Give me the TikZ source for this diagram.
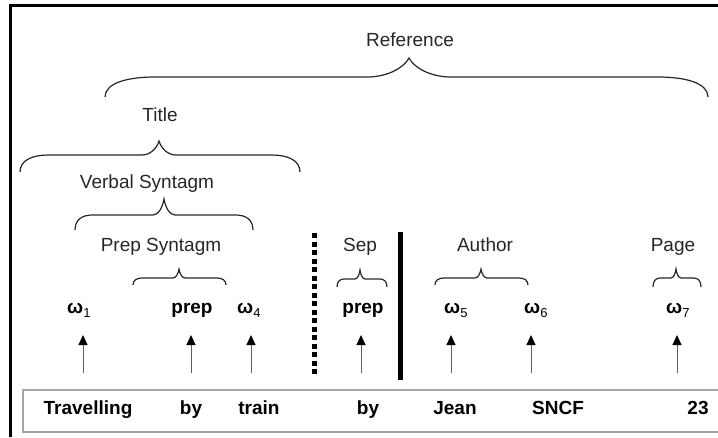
\documentclass[tikz,border=0pt]{standalone}
\usepackage{fontspec}
\setmainfont{Liberation Sans}
\usetikzlibrary{arrows.meta}
% #1 left x, #2 right x, #3 tip x, #4 line y, #5 end drop, #6 tip rise, #7 end width, #8 tip half-width
\newcommand{\wbrace}[8]{%
  \draw[brc] (#1,#4+#5) .. controls (#1,#4+0.3*#5) and (#1+0.45*#7,#4) .. (#1+#7,#4)
    -- (#3-#8,#4) .. controls (#3-0.5*#8,#4) and (#3-0.12*#8,#4-0.5*#6) .. (#3,#4-#6)
    .. controls (#3+0.12*#8,#4-0.5*#6) and (#3+0.5*#8,#4) .. (#3+#8,#4)
    -- (#2-#7,#4) .. controls (#2-0.45*#7,#4) and (#2,#4+0.3*#5) .. (#2,#4+#5);}
\newcommand{\omsub}[1]{\textbf{ω}\raisebox{-4.5pt}{\fontsize{13}{13}\selectfont #1}}
\begin{document}
\begin{tikzpicture}[x=1pt,y=-1pt,
  every node/.style={inner sep=0pt,font=\fontsize{19}{22}\selectfont,text=black!85},
  lbl/.style={anchor=base},
  wd/.style={anchor=base,font=\fontsize{19}{22}\selectfont\bfseries,text=black},
  om/.style={anchor=base west,font=\fontsize{19}{22}\selectfont,text=black},
  arr/.style={draw=gray!75!black,line width=1pt,-{Triangle[length=10pt,width=9pt,color=black]}},
  brc/.style={line width=1.2pt,draw=black!85},
  frame/.style={line width=3pt,draw=black},
  boxline/.style={line width=1.5pt,draw=gray!70}]
\useasboundingbox (0,0) rectangle (718,437);
% frame
\draw[frame] (10,437) -- (10,5) -- (718,5);
% bottom box
\draw[boxline] (718,390) -- (23,390) -- (23,432) -- (718,432);
% labels
\node[lbl] (ref) at (410,46) {Reference};
\node[lbl] (title) at (160,121) {Title};
\node[lbl] (verb) at (147,188) {Verbal Syntagm};
\node[lbl] (prepsyn) at (161,251) {Prep Syntagm};
\node[lbl] (sep) at (360,251) {Sep};
\node[lbl] (author) at (485,251) {Author};
\node[lbl] (page) at (673,251) {Page};
% braces
\wbrace{105}{708}{409}{77}{20}{19}{50}{42}
\wbrace{20}{300}{159}{155}{17}{14}{28}{17}
\wbrace{75}{253}{164}{215}{15}{16}{17}{11}
\wbrace{133}{226}{179}{278}{7}{9}{9}{6}
\wbrace{337}{387}{360}{279}{8}{9}{7}{5}
\wbrace{435}{528}{481}{278}{7}{9}{9}{6}
\wbrace{653}{701}{676}{278}{9}{9}{7}{5}
% middle row
\node[om] (w1) at (67,313) {\omsub{1}};
\node[wd] (p1) at (192,313) {prep};
\node[om] (w4) at (237,313) {\omsub{4}};
\node[wd] (p2) at (363,313) {prep};
\node[om] (w5) at (444,313) {\omsub{5}};
\node[om] (w6) at (524,313) {\omsub{6}};
\node[om] (w7) at (666,313) {\omsub{7}};
% separators
\draw[line width=5pt,dash pattern=on 5pt off 3.5pt] (314,233) -- (314,377);
\draw[line width=5pt] (400,232) -- (400,380);
% bottom words
\node[wd] (b1) at (88,414) {Travelling};
\node[wd] (b2) at (191,414) {by};
\node[wd] (b3) at (259,414) {train};
\node[wd] (b4) at (368,414) {by};
\node[wd] (b5) at (455,414) {Jean};
\node[wd] (b6) at (558,414) {SNCF};
\node[wd] (b7) at (698,414) {23};
% arrows
\foreach \n/\x in {1/83,2/191,3/251,4/361,5/451,6/531,7/677}{
  \coordinate (t\n) at (\x,373);
  \coordinate (h\n) at (\x,335);
  \draw[arr] (t\n) -- (h\n);
}
\end{tikzpicture}
\end{document}
